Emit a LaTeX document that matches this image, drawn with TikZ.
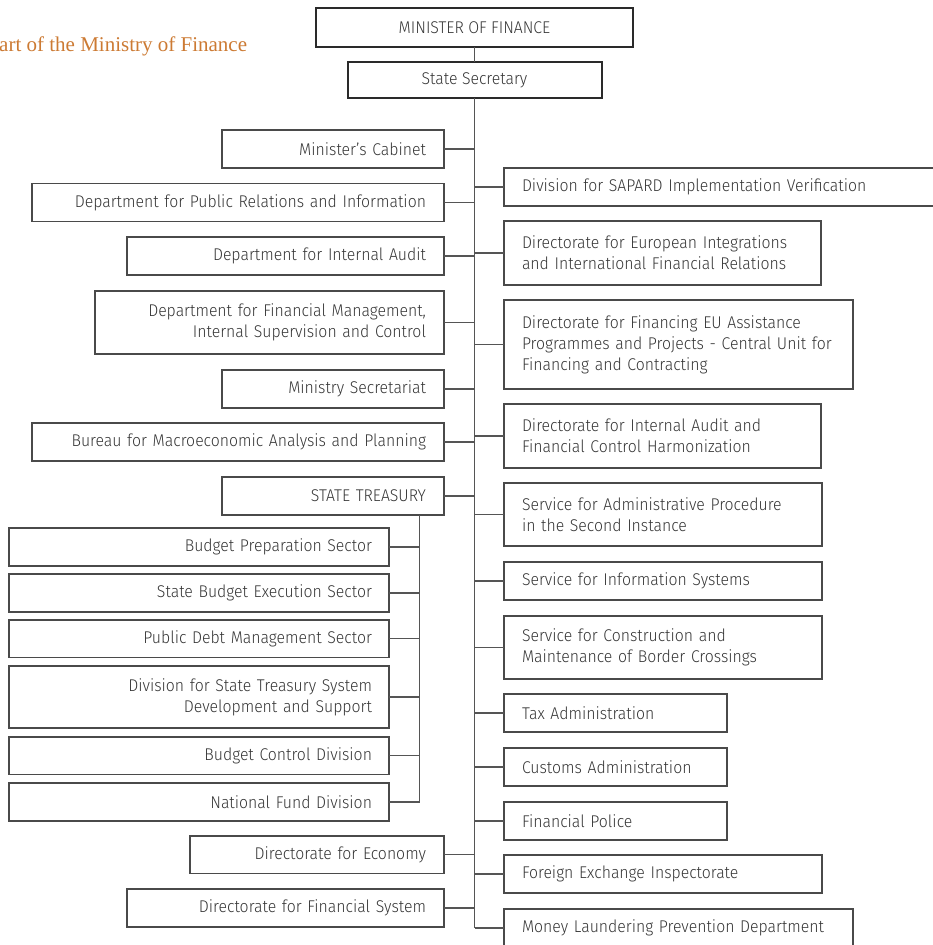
\documentclass[tikz,border=0pt]{standalone}
\usepackage{fontspec}
\IfFontExistsTF{Fira Sans Light}{\setsansfont{Fira Sans Light}[FakeStretch=0.93]}{\setsansfont{PT Sans}}
\newfontfamily\titlefont{Liberation Serif}
\definecolor{txt}{HTML}{353535}
\definecolor{boxline}{HTML}{4A4A4A}
\definecolor{headline}{HTML}{2A2A2A}
\definecolor{linkcol}{HTML}{555555}
\definecolor{titleorange}{RGB}{204,122,51}
\begin{document}
\begin{tikzpicture}[x=1pt,y=-1pt,
  every node/.style={font=\sffamily\fontsize{17}{21}\selectfont, text=txt},
  box/.style={draw=boxline, line width=1.1pt, inner xsep=18pt, inner ysep=0pt, outer sep=0pt},
  lbox/.style={box, align=right, anchor=north east},
  rbox/.style={box, align=left, anchor=north west},
  subbox/.style={lbox, inner xsep=17pt},
  head/.style={draw=headline, line width=2pt, inner sep=0pt, outer sep=0pt},
  link/.style={draw=linkcol, line width=1.1pt}]
\useasboundingbox (0,0) rectangle (933,945);
\clip (0,0) rectangle (933,945);

% heading
\node[font=\titlefont\fontsize{21}{24}\selectfont, text=titleorange,
      anchor=base west, inner sep=0pt] (title) at (-1,51) {art of the Ministry of Finance};

% top of the hierarchy
\node[head, minimum width=317pt, minimum height=39pt] (min) at (474.5,27.5) {MINISTER OF FINANCE};
\node[head, minimum width=254pt, minimum height=36pt] (ss) at (474.5,80) {State Secretary};

% units on the left
\node[lbox, text width=186pt, minimum height=38pt] (cab) at (444,130) {Minister’s Cabinet};
\node[lbox, text width=376pt, minimum height=38pt] (pr) at (444,183.5) {Department for Public Relations and Information};
\node[lbox, text width=281pt, minimum height=38pt] (ia) at (444,237) {Department for Internal Audit};
\node[lbox, text width=313pt, minimum height=63pt] (fm) at (444,291) {Department for Financial Management,\\Internal Supervision and Control};
\node[lbox, text width=186pt, minimum height=38pt] (sec) at (444,370) {Ministry Secretariat};
\node[lbox, text width=376pt, minimum height=38pt] (bur) at (444,423) {Bureau for Macroeconomic Analysis and Planning};
\node[lbox, text width=186pt, minimum height=38pt] (st) at (444,477) {STATE TREASURY};
\node[lbox, text width=218pt, minimum height=37.5pt] (econ) at (444,836) {Directorate for Economy};
\node[lbox, text width=281pt, minimum height=38pt] (fsys) at (444,889) {Directorate for Financial System};

% state treasury sectors
\node[subbox, text width=346pt, minimum height=38pt] (bp) at (389,528) {Budget Preparation Sector};
\node[subbox, text width=346pt, minimum height=38pt] (sbe) at (389,574) {State Budget Execution Sector};
\node[subbox, text width=346pt, minimum height=37.5pt] (pdm) at (389,620) {Public Debt Management Sector};
\node[subbox, text width=346pt, minimum height=62pt] (dts) at (389,666) {Division for State Treasury System\\Development and Support};
\node[subbox, text width=346pt, minimum height=37.5pt] (bcd) at (389,737) {Budget Control Division};
\node[subbox, text width=346pt, minimum height=38pt] (nfd) at (389,783) {National Fund Division};

% units on the right
\node[rbox, text width=420pt, minimum height=38pt] (sap) at (504,168) {Division for SAPARD Implementation Verification};
\node[rbox, text width=281pt, minimum height=64pt] (eu) at (504,221) {Directorate for European Integrations\\and International Financial Relations};
\node[rbox, text width=313pt, minimum height=89pt] (ipa) at (504,300) {Directorate for Financing EU Assistance\\Programmes and Projects - Central Unit for\\Financing and Contracting};
\node[rbox, text width=281pt, minimum height=64pt] (ha) at (504,404) {Directorate for Internal Audit and\\Financial Control Harmonization};
\node[rbox, text width=282pt, minimum height=63pt] (adm) at (504,483) {Service for Administrative Procedure\\in the Second Instance};
\node[rbox, text width=282pt, minimum height=38pt] (info) at (504,562) {Service for Information Systems};
\node[rbox, text width=282pt, minimum height=63pt] (bcr) at (504,616) {Service for Construction and\\Maintenance of Border Crossings};
\node[rbox, text width=187pt, minimum height=38pt] (tax) at (504,694) {Tax Administration};
\node[rbox, text width=187pt, minimum height=38pt] (cust) at (504,748) {Customs Administration};
\node[rbox, text width=187pt, minimum height=38pt] (pol) at (504,802) {Financial Police};
\node[rbox, text width=282pt, minimum height=38pt] (fx) at (504,855) {Foreign Exchange Inspectorate};
\node[rbox, text width=313pt, minimum height=38pt] (ml) at (504,909) {Money Laundering Prevention Department};

% main spine
\draw[link] (min.south) -- (ss.north);
\draw[link] (ss.south) -- (ss.south |- ml.west);
\foreach \n in {cab,pr,ia,fm,sec,bur,st,econ,fsys}
  \draw[link] (\n.east) -- (\n.east -| ss.south);
\foreach \n in {sap,eu,ipa,ha,adm,info,bcr,tax,cust,pol,fx,ml}
  \draw[link] (\n.west) -- (\n.west -| ss.south);

% treasury branch
\coordinate (tsp) at (419.5,0);
\draw[link] (st.south -| tsp) -- (tsp |- nfd.east);
\foreach \n in {bp,sbe,pdm,dts,bcd,nfd}
  \draw[link] (\n.east) -- (\n.east -| tsp);
\end{tikzpicture}
\end{document}
